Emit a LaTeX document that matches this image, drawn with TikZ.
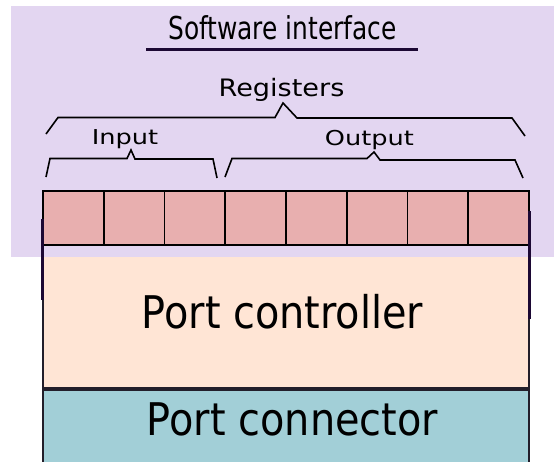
\documentclass[tikz,border=0pt]{standalone}
\usepackage{fontspec}
\setmainfont{DejaVu Sans}
\newfontfamily\slimfont[FakeStretch=0.79]{DejaVu Sans}
\newfontfamily\narrowfont[FakeStretch=0.885]{DejaVu Sans}
\newfontfamily\regfont[FakeStretch=1.13]{DejaVu Sans}
\newfontfamily\widefont[FakeStretch=1.25]{DejaVu Sans}
\definecolor{swpurple}{RGB}{227,214,241}
\definecolor{regpink}{RGB}{232,175,175}
\definecolor{ctrlpeach}{RGB}{255,229,213}
\definecolor{conteal}{RGB}{162,207,215}
\definecolor{edgedark}{RGB}{28,8,52}
\definecolor{boxedge}{RGB}{34,30,42}
\tikzset{
  regcell/.style={draw=black, line width=1.6pt, fill=regpink, minimum width=60.75pt, minimum height=54pt, inner sep=0pt},
  layerbox/.style={draw=boxedge, line width=2pt, minimum width=486pt, inner sep=0pt},
  bracket/.style={draw=black, line width=1.6pt, line join=miter},
  bigtext/.style={anchor=base, inner sep=0pt, font=\narrowfont\fontsize{45}{50}\selectfont},
  midtext/.style={anchor=base, inner sep=0pt, font=\regfont\fontsize{24}{28}\selectfont},
  smalltext/.style={anchor=base, inner sep=0pt, font=\widefont\fontsize{20.5}{24}\selectfont}
}
\begin{document}
\begin{tikzpicture}[x=1pt, y=-1pt]
        \useasboundingbox (0,0) rectangle (554,461);
        \begin{scope}
            \node[layerbox, fill=ctrlpeach, minimum height=143pt] (ctrl) at (286,316.5) {}; % port controller
            \node[layerbox, fill=conteal, minimum height=82pt, anchor=north] (conn) at (ctrl.south) {}; % port connector
            \fill[swpurple] (11,6) rectangle (554,257); % software interface

            \foreach \i in {1,...,8}
                \node[regcell] (reg\i) at ({43+60.75*(\i-0.5)},218) {}; % registers

            \draw[edgedark, line width=3pt] (42.5,219) -- (42.5,300);
            \draw[edgedark, line width=3pt] (529.5,211) -- (529.5,319);

            \node[anchor=base, inner sep=0pt, font=\slimfont\fontsize{31.5}{36}\selectfont] (swtext) at (282.5,39) {Software interface};
            \draw[edgedark, line width=3pt] (146,49) -- (418,49);
            \node[midtext] (regtext) at (281.5,96) {Registers};
            \node[smalltext] (intext) at (125,144) {Input};
            \node[smalltext] (outtext) at (369.5,145) {Output};
            \node[bigtext] (ctrltext) at (282.5,328) {Port controller};
            \node[bigtext] (conntext) at (292.5,435) {Port connector};

            \draw[bracket] (46,134) -- (58,117.5) -- (275,117.5) -- (283,103) -- (297,118) -- (512,118) -- (525,136); % registers
            \draw[bracket] (46,177) -- (50,158.5) -- (127,158.5) -- (131,150) -- (135,159) -- (213,159) -- (217,178); % input
            \draw[bracket] (225,177) -- (232,158.5) -- (367,158.5) -- (374,152) -- (380,160) -- (515,160) -- (523,178); % output
        \end{scope}
\end{tikzpicture}
\end{document}
